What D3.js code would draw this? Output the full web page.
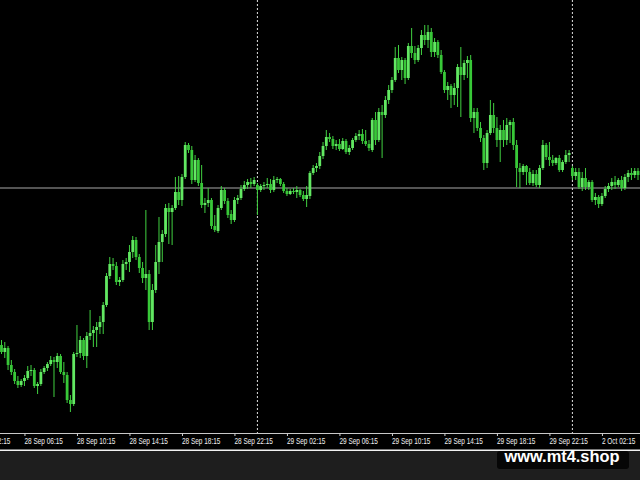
<!DOCTYPE html>
<html><head><meta charset="utf-8">
<script src="https://cdn.jsdelivr.net/npm/d3@7"></script>
<style>html,body{margin:0;padding:0;background:#1e1e1e;overflow:hidden}</style>
</head><body><svg id="c" width="640" height="480"></svg>
<script>
// M15 candles, 28 Sep 04:30 -> 2 Oct, prices
const opens=[1.16935,1.16928,1.16932,1.16915,1.16908,1.16899,1.16895,1.16899,1.16902,1.16909,
1.16910,1.16894,1.16896,1.16908,1.16912,1.16916,1.16920,1.16918,1.16924,1.16908,
1.16905,1.16880,1.16876,1.16926,1.16927,1.16940,1.16924,1.16944,1.16947,1.16950,
1.16953,1.16958,1.16975,1.17004,1.17016,1.17014,1.16998,1.17000,1.17016,1.17018,
1.17028,1.17040,1.17023,1.17012,1.17002,1.17006,1.16958,1.16990,1.17018,1.17038,
1.17046,1.17072,1.17068,1.17072,1.17088,1.17080,1.17103,1.17135,1.17130,1.17100,
1.17120,1.17097,1.17075,1.17077,1.17080,1.17054,1.17049,1.17072,1.17090,1.17079,
1.17066,1.17060,1.17080,1.17082,1.17091,1.17095,1.17098,1.17096,1.17095,1.17090,
1.17094,1.17095,1.17096,1.17090,1.17100,1.17101,1.17096,1.17089,1.17086,1.17089,
1.17088,1.17090,1.17085,1.17081,1.17084,1.17107,1.17112,1.17114,1.17124,1.17134,
1.17143,1.17141,1.17134,1.17136,1.17131,1.17139,1.17128,1.17132,1.17140,1.17144,
1.17146,1.17139,1.17136,1.17130,1.17160,1.17140,1.17168,1.17165,1.17180,1.17190,
1.17200,1.17222,1.17210,1.17220,1.17202,1.17234,1.17227,1.17220,1.17232,1.17245,
1.17240,1.17248,1.17228,1.17238,1.17225,1.17208,1.17190,1.17194,1.17185,1.17192,
1.17213,1.17205,1.17217,1.17220,1.17162,1.17168,1.17152,1.17142,1.17117,1.17147,
1.17165,1.17152,1.17140,1.17150,1.17140,1.17155,1.17158,1.17135,1.17112,1.17108,
1.17114,1.17108,1.17097,1.17106,1.17095,1.17112,1.17135,1.17123,1.17120,1.17117,
1.17122,1.17110,1.17118,1.17125,1.17112,1.17104,1.17108,1.17093,1.17102,1.17093,
1.17098,1.17080,1.17083,1.17076,1.17084,1.17091,1.17094,1.17098,1.17095,1.17100,
1.17092,1.17103,1.17107,1.17105,1.17109];
const highs=[1.16940,1.16938,1.16934,1.16920,1.16911,1.16904,1.16901,1.16905,1.16914,1.16915,
1.16912,1.16898,1.16911,1.16914,1.16918,1.16924,1.16923,1.16927,1.16926,1.16918,
1.16908,1.16885,1.16928,1.16955,1.16944,1.16942,1.16948,1.16970,1.16954,1.16958,
1.16964,1.16978,1.17007,1.17023,1.17022,1.17018,1.17003,1.17020,1.17022,1.17035,
1.17044,1.17043,1.17026,1.17018,1.17070,1.17010,1.16996,1.17035,1.17063,1.17050,
1.17076,1.17077,1.17075,1.17103,1.17104,1.17106,1.17138,1.17137,1.17134,1.17125,
1.17122,1.17115,1.17082,1.17092,1.17082,1.17065,1.17075,1.17094,1.17092,1.17082,
1.17070,1.17083,1.17085,1.17095,1.17099,1.17101,1.17102,1.17103,1.17097,1.17096,
1.17098,1.17102,1.17101,1.17104,1.17103,1.17102,1.17098,1.17092,1.17091,1.17092,
1.17094,1.17091,1.17089,1.17094,1.17109,1.17115,1.17117,1.17128,1.17138,1.17150,
1.17147,1.17144,1.17140,1.17141,1.17142,1.17141,1.17135,1.17142,1.17147,1.17150,
1.17151,1.17150,1.17140,1.17162,1.17168,1.17172,1.17175,1.17184,1.17195,1.17203,
1.17233,1.17235,1.17223,1.17222,1.17237,1.17252,1.17234,1.17235,1.17250,1.17255,
1.17255,1.17252,1.17242,1.17240,1.17230,1.17210,1.17198,1.17196,1.17197,1.17216,
1.17233,1.17220,1.17224,1.17225,1.17172,1.17172,1.17158,1.17145,1.17150,1.17180,
1.17177,1.17163,1.17155,1.17160,1.17162,1.17160,1.17162,1.17140,1.17117,1.17116,
1.17115,1.17112,1.17110,1.17110,1.17115,1.17140,1.17137,1.17138,1.17125,1.17123,
1.17125,1.17120,1.17130,1.17130,1.17114,1.17112,1.17112,1.17108,1.17112,1.17100,
1.17100,1.17087,1.17085,1.17087,1.17094,1.17097,1.17102,1.17104,1.17102,1.17104,
1.17106,1.17110,1.17112,1.17112,1.17112];
const lows=[1.16926,1.16922,1.16910,1.16905,1.16896,1.16892,1.16893,1.16894,1.16900,1.16904,
1.16892,1.16886,1.16894,1.16906,1.16909,1.16914,1.16883,1.16912,1.16906,1.16897,
1.16877,1.16868,1.16874,1.16923,1.16922,1.16920,1.16912,1.16940,1.16933,1.16933,
1.16946,1.16946,1.16973,1.17001,1.17010,1.16995,1.16994,1.16998,1.17010,1.17008,
1.17022,1.17020,1.17007,1.16997,1.16990,1.16950,1.16950,1.16987,1.17006,1.17018,
1.17043,1.17036,1.17035,1.17070,1.17075,1.17074,1.17101,1.17127,1.17096,1.17098,
1.17094,1.17072,1.17067,1.17073,1.17051,1.17048,1.17047,1.17070,1.17076,1.17062,
1.17056,1.17058,1.17076,1.17080,1.17089,1.17091,1.17092,1.17094,1.17065,1.17088,
1.17090,1.17092,1.17087,1.17088,1.17097,1.17094,1.17087,1.17084,1.17085,1.17086,
1.17082,1.17083,1.17079,1.17073,1.17081,1.17105,1.17108,1.17111,1.17121,1.17130,
1.17138,1.17131,1.17130,1.17129,1.17130,1.17126,1.17125,1.17130,1.17138,1.17140,
1.17136,1.17134,1.17129,1.17128,1.17135,1.17138,1.17122,1.17162,1.17176,1.17187,
1.17198,1.17207,1.17200,1.17196,1.17200,1.17222,1.17216,1.17218,1.17225,1.17235,
1.17232,1.17223,1.17223,1.17222,1.17206,1.17187,1.17180,1.17172,1.17175,1.17173,
1.17163,1.17200,1.17202,1.17158,1.17147,1.17149,1.17138,1.17110,1.17112,1.17145,
1.17147,1.17133,1.17118,1.17133,1.17135,1.17137,1.17130,1.17093,1.17092,1.17105,
1.17095,1.17095,1.17094,1.17093,1.17092,1.17110,1.17120,1.17114,1.17114,1.17115,
1.17108,1.17108,1.17116,1.17118,1.17100,1.17100,1.17091,1.17089,1.17090,1.17090,
1.17078,1.17075,1.17072,1.17074,1.17082,1.17088,1.17090,1.17091,1.17093,1.17089,
1.17090,1.17098,1.17100,1.17102,1.17100];
const closes=[1.16928,1.16932,1.16915,1.16908,1.16899,1.16895,1.16899,1.16902,1.16909,1.16910,
1.16894,1.16896,1.16908,1.16912,1.16916,1.16920,1.16918,1.16924,1.16908,1.16905,
1.16880,1.16876,1.16926,1.16927,1.16940,1.16924,1.16944,1.16947,1.16950,1.16953,
1.16958,1.16975,1.17004,1.17016,1.17014,1.16998,1.17000,1.17016,1.17018,1.17028,
1.17040,1.17023,1.17012,1.17002,1.17006,1.16958,1.16990,1.17018,1.17038,1.17046,
1.17072,1.17068,1.17072,1.17088,1.17080,1.17103,1.17135,1.17130,1.17100,1.17120,
1.17097,1.17075,1.17077,1.17080,1.17054,1.17050,1.17072,1.17090,1.17079,1.17065,
1.17060,1.17080,1.17082,1.17091,1.17095,1.17098,1.17096,1.17100,1.17090,1.17094,
1.17095,1.17096,1.17090,1.17100,1.17101,1.17096,1.17089,1.17086,1.17089,1.17088,
1.17090,1.17085,1.17081,1.17085,1.17107,1.17112,1.17114,1.17124,1.17134,1.17143,
1.17141,1.17134,1.17136,1.17131,1.17139,1.17128,1.17132,1.17140,1.17144,1.17146,
1.17139,1.17136,1.17132,1.17160,1.17140,1.17168,1.17165,1.17180,1.17190,1.17200,
1.17222,1.17210,1.17220,1.17202,1.17234,1.17227,1.17220,1.17232,1.17245,1.17240,
1.17248,1.17228,1.17238,1.17225,1.17208,1.17190,1.17194,1.17185,1.17192,1.17213,
1.17205,1.17217,1.17220,1.17162,1.17168,1.17152,1.17142,1.17117,1.17147,1.17165,
1.17152,1.17140,1.17150,1.17140,1.17155,1.17158,1.17135,1.17112,1.17108,1.17114,
1.17108,1.17097,1.17106,1.17095,1.17112,1.17135,1.17123,1.17120,1.17117,1.17122,
1.17110,1.17118,1.17125,1.17127,1.17104,1.17108,1.17093,1.17102,1.17093,1.17098,
1.17080,1.17083,1.17076,1.17084,1.17091,1.17094,1.17098,1.17095,1.17100,1.17092,
1.17103,1.17107,1.17105,1.17109,1.17105];

const tickLabels=["28 Sep 02:15","28 Sep 06:15","28 Sep 10:15","28 Sep 14:15","28 Sep 18:15","28 Sep 22:15",
"29 Sep 02:15","29 Sep 06:15","29 Sep 10:15","29 Sep 14:15","29 Sep 18:15","29 Sep 22:15","2 Oct 02:15"];
const tickBars=[-9,7,23,39,55,71,87,103,119,135,151,167,183];
const separatorBars=[78,174];
const bidPrice=1.17092;
const watermark="www.mt4.shop";

const W=640,H=480,plotBottom=433;
const svg=d3.select("#c");
svg.append("rect").attr("width",W).attr("height",H).attr("fill","#1e1e1e");
svg.append("rect").attr("width",W).attr("height",450).attr("fill","#000");

const n=closes.length;
const x=d3.scaleLinear().domain([0,n-1]).range([1.5,1.5+(n-1)*3.281]);
const y=d3.scaleLinear().domain([1.16800,1.17280]).range([H,0]);

svg.append("clipPath").attr("id","plot").append("rect").attr("width",W).attr("height",plotBottom);
const plot=svg.append("g").attr("clip-path","url(#plot)");

// bid line
plot.append("line").attr("x1",0).attr("x2",W).attr("y1",y(bidPrice)).attr("y2",y(bidPrice))
  .attr("stroke","#a8a8a8").attr("stroke-width",1);

// period separators
plot.selectAll("line.sep").data(separatorBars).join("line").attr("class","sep")
  .attr("x1",d=>x(d)).attr("x2",d=>x(d)).attr("y1",0).attr("y2",plotBottom)
  .attr("stroke","#e0e0e0").attr("stroke-width",1).attr("stroke-dasharray","2,2");

const bars=d3.range(n).map(i=>({i,o:opens[i],h:highs[i],l:lows[i],c:closes[i]}));
plot.selectAll("line.wick").data(bars).join("line").attr("class","wick")
  .attr("x1",d=>x(d.i)).attr("x2",d=>x(d.i)).attr("y1",d=>y(d.h)).attr("y2",d=>y(d.l))
  .attr("stroke","#40d040").attr("stroke-width",1);
plot.selectAll("rect.body").data(bars).join("rect").attr("class","body")
  .attr("x",d=>x(d.i)-1.4).attr("width",2.8)
  .attr("y",d=>y(Math.max(d.o,d.c)))
  .attr("height",d=>Math.max(1,Math.abs(y(d.o)-y(d.c))))
  .attr("fill",d=>d.c>=d.o?"#62e862":"#38c838");

// time axis
const axis=d3.axisBottom(x).tickValues(tickBars).tickFormat((d,k)=>tickLabels[k]).tickSize(3).tickSizeOuter(0);
const ag=svg.append("g").attr("transform",`translate(0,${plotBottom})`).call(axis);
ag.select(".domain").remove();
ag.insert("line",":first-child").attr("x1",0).attr("x2",W).attr("y1",0.5).attr("y2",0.5).attr("stroke","#c8c8c8");
ag.selectAll(".tick line").attr("stroke","#d0d0d0");
ag.selectAll(".tick text").attr("fill","#f0f0f0").attr("text-anchor","start")
  .attr("font-family","'Liberation Sans', Arial, sans-serif").attr("font-size","9px")
  .attr("y",null).attr("dy",null)
  .attr("transform","translate(-0.5,11.3) scale(0.72,1)");

// bottom white border
svg.append("rect").attr("x",0).attr("y",449.5).attr("width",W).attr("height",1.5).attr("fill","#f2f2f2");

// watermark
svg.append("rect").attr("x",497).attr("y",451).attr("width",132).attr("height",18).attr("rx",3).attr("fill","#060606");
svg.append("text").attr("x",562).attr("y",462).attr("text-anchor","middle")
  .attr("font-family","'Liberation Sans', Arial, sans-serif").attr("font-weight","bold").attr("font-size","16.4px")
  .attr("fill","#ffffff").text(watermark);
</script></body></html>
